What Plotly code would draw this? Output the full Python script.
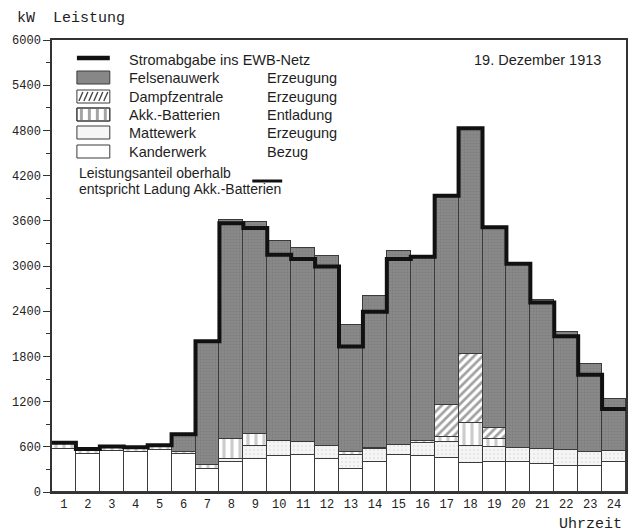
import plotly.graph_objects as go

hours = list(range(1, 25))
kander = [572, 506, 541, 528, 564, 506, 307, 396, 444, 484, 488, 444,
          312, 396, 488, 475, 453, 387, 400, 396, 373, 351, 343, 396]
matte = [0, 0, 0, 0, 0, 0, 0, 44, 173, 190, 173, 173,
         185, 176, 142, 177, 207, 230, 199, 190, 199, 204, 185, 154]
akku = [62, 50, 50, 50, 45, 30, 53, 265, 159, 0, 0, 0,
        35, 18, 0, 30, 71, 300, 106, 0, 0, 0, 0, 0]
dampf = [0, 0, 0, 0, 0, 0, 0, 0, 0, 0, 0, 0,
         0, 0, 0, 0, 420, 920, 141, 0, 0, 0, 0, 0]
felsenau = [0, 0, 0, 0, 0, 222, 1645, 2908, 2802, 2652, 2577, 2519,
            1680, 2007, 2572, 2432, 2772, 2983, 2661, 2453, 1971, 1569, 1176, 686]
abgabe = [655, 570, 605, 595, 622, 765, 2000, 3569, 3503, 3149, 3092, 2994,
          1933, 2393, 3092, 3122, 3932, 4828, 3515, 3030, 2517, 2066, 1558, 1103]
yticks = [0, 600, 1200, 1800, 2400, 3000, 3600, 4200, 4800, 5400, 6000]

EDGE = "#3a3a3a"
MONO = "Liberation Mono, Courier New, monospace"
SANS = "Liberation Sans, Arial, sans-serif"

fig = go.Figure()

def add_bar(name, vals, color, pattern=None):
    fig.add_trace(go.Bar(
        x=hours, y=vals, name=name, width=1.0,
        marker=dict(color=color, line=dict(color=EDGE, width=1),
                    pattern=pattern if pattern else dict(shape="")),
        showlegend=False, hoverinfo="x+y+name"))

add_bar("Kanderwerk", kander, "#ffffff")
add_bar("Mattewerk", matte, "#f3f3f3",
        dict(shape=".", fgcolor="#d0d0d0", bgcolor="#f5f5f5", size=4, solidity=0.2))
add_bar("Akk.-Batterien", akku, "#ffffff",
        dict(shape="|", fgcolor="#9a9a9a", bgcolor="#ffffff", size=8, solidity=0.4))
add_bar("Dampfzentrale", dampf, "#ffffff",
        dict(shape="/", fgcolor="#444444", bgcolor="#ffffff", size=6, solidity=0.45))
add_bar("Felsenauwerk", felsenau, "#878787",
        dict(shape=".", fgcolor="#6f6f6f", bgcolor="#898989", size=3, solidity=0.3))

# step line (Stromabgabe ins EWB-Netz) along bar edges
edges = [h - 0.5 for h in hours] + [hours[-1] + 0.5]
fig.add_trace(go.Scatter(
    x=edges, y=abgabe + [abgabe[-1]], mode="lines", line_shape="hv",
    line=dict(color="#111111", width=4), name="Stromabgabe ins EWB-Netz",
    showlegend=False))

# ---- layout geometry (pixels) ----
W, H = 637, 532
L, R, T, B = 52, 628, 40, 492

def px(x):
    return (x - L) / (R - L)

def py(y):
    return (B - y) / (B - T)

shapes = []
annos = []

def text(x, y, s, size=14.5, font=SANS, anchor="left"):
    annos.append(dict(x=px(x), y=py(y), xref="paper", yref="paper", text=s,
                      showarrow=False, xanchor=anchor, yanchor="middle",
                      font=dict(family=font, size=size, color="#1e1e1e")))

def rect(x0, y0, x1, y1, fill, lw=1, lc=EDGE):
    shapes.append(dict(type="rect", xref="paper", yref="paper",
                       x0=px(x0), x1=px(x1), y0=py(y1), y1=py(y0),
                       fillcolor=fill, line=dict(color=lc, width=lw)))

def line(x0, y0, x1, y1, w=1, c="#111111"):
    shapes.append(dict(type="line", xref="paper", yref="paper",
                       x0=px(x0), x1=px(x1), y0=py(y0), y1=py(y1),
                       line=dict(color=c, width=w)))

# legend
SX0, SX1 = 77, 110
line(SX0, 58, SX1, 58, w=4.5)
text(127, 60, "Stromabgabe ins EWB-Netz")

rows = [("Felsenauwerk", "Erzeugung", 78),
        ("Dampfzentrale", "Erzeugung", 97),
        ("Akk.-Batterien", "Entladung", 115),
        ("Mattewerk", "Erzeugung", 133),
        ("Kanderwerk", "Bezug", 152)]
for name, kind, yc in rows:
    y0, y1 = yc - 7, yc + 6
    if name == "Felsenauwerk":
        rect(SX0, y0, SX1, y1, "#878787")
    elif name == "Dampfzentrale":
        rect(SX0, y0, SX1, y1, "#ffffff")
        xx = SX0 + 2
        while xx + 4 <= SX1:
            line(xx, y1 - 2, xx + 4, y0 + 2, w=1.4, c="#444444")
            xx += 5
    elif name == "Akk.-Batterien":
        rect(SX0, y0, SX1, y1, "#ffffff")
        for xx in (80, 88, 96, 104):
            rect(xx, y0 + 1, xx + 3, y1 - 1, "#a5a5a5", lw=0)
        rect(SX0, y0, SX1, y1, "rgba(0,0,0,0)")
    elif name == "Mattewerk":
        rect(SX0, y0, SX1, y1, "#f6f6f6")
    else:
        rect(SX0, y0, SX1, y1, "#ffffff")
    text(127, yc, name)
    text(266, yc, kind)

text(77, 173, "Leistungsanteil oberhalb", size=14)
line(253, 181, 283, 181, w=3)
text(77, 189, "entspricht Ladung Akk.-Batterien", size=14)
text(473, 60, "19. Dezember 1913")

# axis captions
text(15, 18, "kW  Leistung", size=15, font=MONO)
text(626, 524, "Uhrzeit", size=15, font=MONO, anchor="right")

fig.update_layout(
    width=W, height=H,
    margin=dict(l=L, r=W - R, t=T, b=H - B),
    paper_bgcolor="white", plot_bgcolor="white",
    barmode="stack", bargap=0,
    showlegend=False,
    shapes=shapes,
    annotations=annos,
    xaxis=dict(range=[0.5, 24.5], tickmode="array", tickvals=hours,
               ticktext=[str(h) for h in hours], ticks="", showgrid=False,
               zeroline=False, showline=True, linecolor="#333333", linewidth=1.5,
               mirror=True, tickfont=dict(family=MONO, size=12, color="#222222")),
    yaxis=dict(range=[0, 6000], tickmode="array", tickvals=yticks,
               ticks="outside", ticklen=7, tickwidth=1.2, tickcolor="#333333",
               minor=dict(dtick=300, ticks="outside", ticklen=4, tickcolor="#333333",
                          tickwidth=1),
               showgrid=False, zeroline=False, showline=True, linecolor="#333333",
               linewidth=1.5, mirror=True,
               tickfont=dict(family=MONO, size=12, color="#222222")),
)

fig.write_html("out.html",
               config={"displayModeBar": False},
               post_script="document.body.style.margin='0px';document.body.style.overflow='hidden';")
